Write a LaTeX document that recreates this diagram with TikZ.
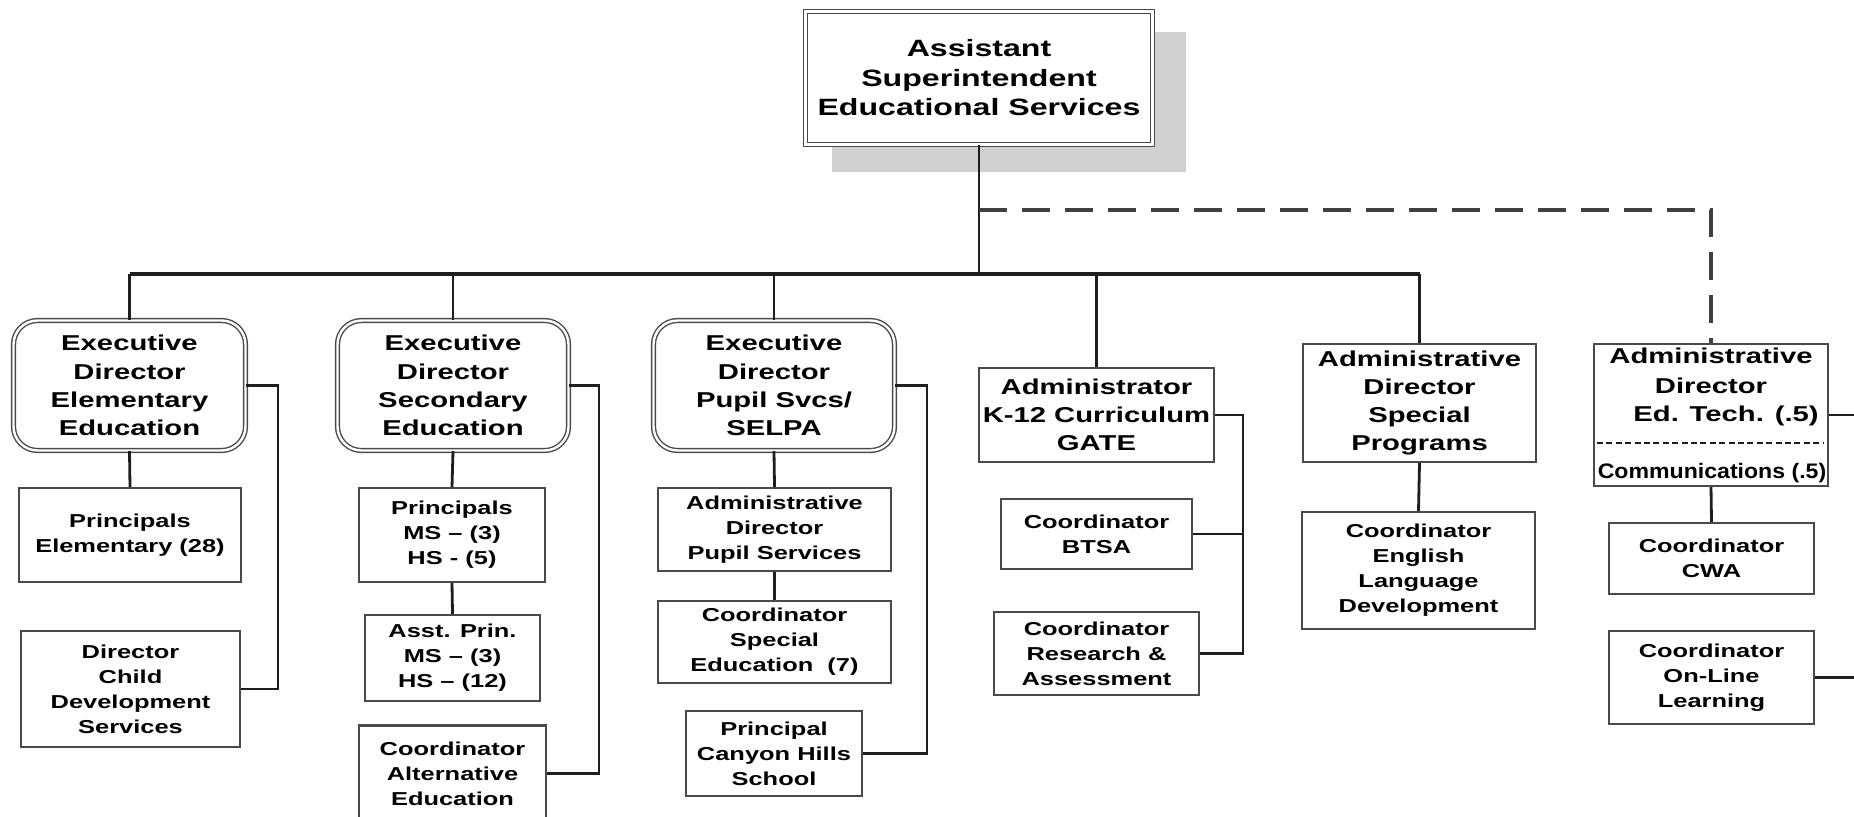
\documentclass[tikz,border=0pt]{standalone}
\usepackage{fontspec}
\setmainfont{Liberation Sans}[FakeStretch=1.36]
\newfontfamily\commfont{Liberation Sans}[FakeStretch=1.1]
\newcommand{\orgtop}{\fontsize{23.6}{29.5}\selectfont\bfseries}
\newcommand{\orgbig}{\fontsize{21.5}{28.3}\selectfont\bfseries}
\newcommand{\orgsmall}{\fontsize{18.7}{25}\selectfont\bfseries}
\definecolor{shadowgray}{HTML}{D0D0D0}
\definecolor{linecol}{HTML}{1E1E1E}
\definecolor{boxcol}{HTML}{4A4A4A}
\begin{document}
\begin{tikzpicture}[x=1pt,y=-1pt,
  ln/.style={draw=linecol, line width=2.8pt},
  busln/.style={draw=linecol, line width=3.8pt},
  thinln/.style={draw=linecol, line width=1.6pt},
  dsh/.style={draw=linecol!85, line width=3.6pt, dash pattern=on 28pt off 15pt},
  sepdash/.style={draw=linecol, line width=2.6pt, dash pattern=on 6pt off 3.4pt},
  bx/.style={draw=boxcol, line width=2.2pt, fill=white, inner sep=0pt, align=center, font=\orgsmall},
  bigbx/.style={bx, font=\orgbig},
  execbx/.style={draw=boxcol, double=white, double distance=2.4pt, line width=1.4pt, rounded corners=24pt, fill=white, inner sep=0pt, align=center, font=\orgbig},
  topbx/.style={draw=boxcol, double=white, double distance=2.4pt, line width=1.5pt, fill=white, inner sep=0pt, align=center, font=\orgtop}
]
\useasboundingbox (0,0) rectangle (1854,816);
\fill[white] (0,0) rectangle (1854,816);
\clip (0,0) rectangle (1854,816);

% coordinates for connectors
\coordinate (busC) at (979,274);
\coordinate (dshC) at (979,210);
\coordinate (b1) at (278,0);
\coordinate (b2) at (599,0);
\coordinate (b3) at (927,0);
\coordinate (bk) at (1243,0);
\coordinate (edge) at (1854,0);

% top box with shadow
\fill[shadowgray] (832,32) rectangle (1186,172);
\node[topbx, minimum width=347pt, minimum height=133pt] (top) at (979,78) {Assistant\\Superintendent\\Educational Services};

% executive directors
\node[execbx, minimum width=232pt, minimum height=130pt] (e1) at (129.5,385.5) {Executive\\Director\\Elementary\\Education};
\node[execbx, minimum width=231pt, minimum height=130pt] (e2) at (453,385.5) {Executive\\Director\\Secondary\\Education};
\node[execbx, minimum width=241pt, minimum height=130pt] (e3) at (774,385.5) {Executive\\Director\\Pupil Svcs/\\SELPA};

% administrators
\node[bigbx, minimum width=235pt, minimum height=94pt] (k) at (1096.5,415) {Administrator\\K-12 Curriculum\\GATE};
\node[bigbx, minimum width=233pt, minimum height=118pt] (sp) at (1419.5,403) {Administrative\\Director\\Special\\Programs};
\node[bx, minimum width=234pt, minimum height=142pt] (et) at (1711,415) {};
\node[anchor=base, font=\orgbig, inner sep=0pt] (et1) at (1711,363) {Administrative};
\node[anchor=base, font=\orgbig, inner sep=0pt] (et2) at (1711,393) {Director};
\node[anchor=base, font=\orgbig, inner sep=0pt] (et3) at (1726,421) {Ed. Tech. (.5)};
\node[anchor=base, font=\commfont\fontsize{21}{24}\selectfont\bfseries, inner sep=0pt] (et4) at (1712,478) {Communications (.5)};
\draw[sepdash] (1597,443) -- (1824,443);

% column 1
\node[bx, minimum width=222pt, minimum height=94pt] (p1) at (130,535) {Principals\\Elementary (28)};
\node[bx, minimum width=219pt, minimum height=116pt] (d1) at (130.5,689) {Director\\Child\\Development\\Services};

% column 2
\node[bx, minimum width=186pt, minimum height=94pt] (p2) at (452,535) {Principals\\MS – (3)\\HS - (5)};
\node[bx, minimum width=175pt, minimum height=86pt] (a2) at (452.5,658) {Asst. Prin.\\MS – (3)\\HS – (12)};
\node[bx, minimum width=187pt, minimum height=96pt] (c2) at (452.5,773.5) {Coordinator\\Alternative\\Education};

% column 3
\node[bx, minimum width=233pt, minimum height=83pt] (s3a) at (774.5,529.5) {Administrative\\Director\\Pupil Services};
\node[bx, minimum width=233pt, minimum height=82pt] (s3b) at (774.5,642) {Coordinator\\Special\\Education\ \ (7)};
\node[bx, minimum width=176pt, minimum height=85pt] (s3c) at (774,753.5) {Principal\\Canyon Hills\\School};

% column 4
\node[bx, minimum width=191pt, minimum height=70pt] (btsa) at (1096.5,534) {Coordinator\\BTSA};
\node[bx, minimum width=205pt, minimum height=83pt] (ra) at (1096.5,653.5) {Coordinator\\Research \&\\Assessment};

% column 5
\node[bx, minimum width=233pt, minimum height=117pt] (eld) at (1418.5,570.5) {Coordinator\\English\\Language\\Development};

% column 6
\node[bx, minimum width=205pt, minimum height=71pt] (cwa) at (1711.5,558.5) {Coordinator\\CWA};
\node[bx, minimum width=205pt, minimum height=93pt] (ol) at (1711.5,677.5) {Coordinator\\On-Line\\Learning};

% main connectors
\draw[ln] (top.south) -- (busC);
\draw[busln] (e1.north |- busC) -- (sp.north |- busC);
\draw[ln] (e1.north |- busC) -- (e1.north);
\draw[ln] (e2.north |- busC) -- (e2.north);
\draw[ln] (e3.north |- busC) -- (e3.north);
\draw[ln] (k.north |- busC) -- (k.north);
\draw[ln] (sp.north |- busC) -- (sp.north);
\draw[dsh] (dshC) -- (et.north |- dshC) -- (et.north);

% vertical chains
\draw[ln] (e1.south) -- (p1.north);
\draw[ln] (e2.south) -- (p2.north);
\draw[ln] (p2.south) -- (a2.north);
\draw[ln] (e3.south) -- (s3a.north);
\draw[ln] (s3a.south) -- (s3b.north);
\draw[ln] (sp.south) -- (eld.north);
\draw[ln] (et.south) -- (cwa.north);

% brackets
\draw[ln] (e1.east) -- (e1.east -| b1) |- (d1.east);
\draw[ln] (e2.east) -- (e2.east -| b2) |- (c2.east);
\draw[ln] (e3.east) -- (e3.east -| b3) |- (s3c.east);
\draw[ln] (k.east) -- (k.east -| bk) |- (ra.east);
\draw[thinln] (btsa.east) -- (btsa.east -| bk);
\draw[ln] (et.east) -- (et.east -| edge);
\draw[ln] (ol.east) -- (ol.east -| edge);
\end{tikzpicture}
\end{document}
